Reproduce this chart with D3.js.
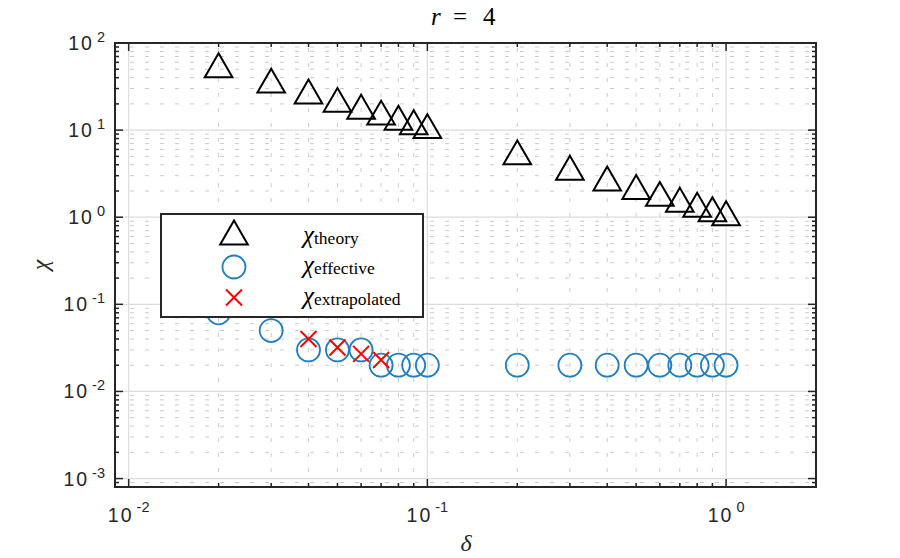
<!DOCTYPE html>
<html><head><meta charset="utf-8">
<script src="https://cdn.jsdelivr.net/npm/d3@7/dist/d3.min.js"></script>
<style>body{margin:0;background:#fff}svg{display:block}</style>
</head><body>
<svg id="c" width="900" height="558"></svg>
<script>
const deltaTheory = [0.02,0.03,0.04,0.05,0.06,0.07,0.08,0.09,0.1,0.2,0.3,0.4,0.5,0.6,0.7,0.8,0.9,1.0];
const chiTheory = [50,33.3,25,20,16.7,14.3,12.5,11.1,10,5,3.33,2.5,2,1.67,1.43,1.25,1.11,1];
const deltaEffective = [0.02,0.03,0.04,0.05,0.06,0.07,0.08,0.09,0.1,0.2,0.3,0.4,0.5,0.6,0.7,0.8,0.9,1.0];
const chiEffective = [0.08,0.05,0.03,0.03,0.03,0.02,0.02,0.02,0.02,0.02,0.02,0.02,0.02,0.02,0.02,0.02,0.02,0.02];
const deltaExtrap = [0.04,0.05,0.06,0.07];
const chiExtrap = [0.04,0.032,0.027,0.023];
const xMajorExp = [-2,-1,0];
const yMajorExp = [-3,-2,-1,0,1,2];
const legendLabels = ["theory","effective","extrapolated"];

const svg = d3.select("#c");
const L=115,R=816,T=43,B=487;
const x = d3.scaleLog().domain([0.009,2]).range([L,R]);
const y = d3.scaleLog().domain([0.0008,100]).range([B,T]);

function minors(lo,hi){const out=[];for(let e=lo;e<=hi;e++){for(let m=2;m<=9;m++)out.push(m*Math.pow(10,e));}return out;}
const xMinor = minors(-3,0).filter(v=>v>=0.009-1e-12&&v<=2+1e-9);
const yMinor = minors(-4,1).filter(v=>v>=0.0008-1e-12&&v<=100);
const xMajor = xMajorExp.map(e=>Math.pow(10,e));
const yMajor = yMajorExp.map(e=>Math.pow(10,e));

const g = svg.append("g");
// minor grid
g.selectAll(".xmg").data(xMinor).enter().append("line")
 .attr("x1",d=>x(d)).attr("x2",d=>x(d)).attr("y1",B).attr("y2",T)
 .attr("stroke","#cbcbcb").attr("stroke-width",1).attr("stroke-dasharray","4,11");
g.selectAll(".ymg").data(yMinor).enter().append("line")
 .attr("y1",d=>y(d)).attr("y2",d=>y(d)).attr("x1",L).attr("x2",R)
 .attr("stroke","#cbcbcb").attr("stroke-width",1).attr("stroke-dasharray","4,11");
// major grid
g.selectAll(".xMg").data(xMajor).enter().append("line")
 .attr("x1",d=>x(d)).attr("x2",d=>x(d)).attr("y1",B).attr("y2",T)
 .attr("stroke","#dcdcdc").attr("stroke-width",1.2);
g.selectAll(".yMg").data(yMajor).enter().append("line")
 .attr("y1",d=>y(d)).attr("y2",d=>y(d)).attr("x1",L).attr("x2",R)
 .attr("stroke","#dcdcdc").attr("stroke-width",1.2);

// data
const tri = d3.symbol().type(d3.symbolTriangle).size(330);
g.selectAll(".tri").data(deltaTheory).enter().append("path")
 .attr("d",tri).attr("transform",(d,i)=>`translate(${x(d)},${y(chiTheory[i])})`)
 .attr("fill","none").attr("stroke","#000").attr("stroke-width",2);
g.selectAll(".circ").data(deltaEffective).enter().append("circle")
 .attr("cx",d=>x(d)).attr("cy",(d,i)=>y(chiEffective[i])).attr("r",11.5)
 .attr("fill","none").attr("stroke","#1f7fc0").attr("stroke-width",1.8);
function cross(sel,cx,cy,s){
  sel.append("path").attr("d",`M${cx-s},${cy-s}L${cx+s},${cy+s}M${cx-s},${cy+s}L${cx+s},${cy-s}`)
   .attr("stroke","#ff0000").attr("stroke-width",2).attr("fill","none");
}
deltaExtrap.forEach((d,i)=>cross(g,x(d),y(chiExtrap[i]),8));

// axes
const axc="#262626";
svg.append("rect").attr("x",L).attr("y",T).attr("width",R-L).attr("height",B-T)
 .attr("fill","none").attr("stroke",axc).attr("stroke-width",2);
function ticksX(vals,len){vals.forEach(v=>{
  svg.append("line").attr("x1",x(v)).attr("x2",x(v)).attr("y1",B).attr("y2",B-len).attr("stroke",axc).attr("stroke-width",1.5);
  svg.append("line").attr("x1",x(v)).attr("x2",x(v)).attr("y1",T).attr("y2",T+len).attr("stroke",axc).attr("stroke-width",1.5);});}
function ticksY(vals,len){vals.forEach(v=>{
  svg.append("line").attr("y1",y(v)).attr("y2",y(v)).attr("x1",L).attr("x2",L+len).attr("stroke",axc).attr("stroke-width",1.5);
  svg.append("line").attr("y1",y(v)).attr("y2",y(v)).attr("x1",R).attr("x2",R-len).attr("stroke",axc).attr("stroke-width",1.5);});}
ticksX(xMinor,4); ticksX(xMajor,8); ticksY(yMinor,4); ticksY(yMajor,8);

// tick labels
const tf = "'Liberation Sans', Arial, sans-serif";
xMajorExp.forEach(e=>{
  const t = svg.append("text").attr("x",x(Math.pow(10,e))).attr("y",522).attr("text-anchor","middle")
   .attr("font-family",tf).attr("font-size",19.5).attr("fill","#262626");
  t.append("tspan").attr("letter-spacing",2).text("10");
  t.append("tspan").attr("font-size",14.5).attr("dx",3).attr("dy",-10).text(String(e));
});
yMajorExp.forEach(e=>{
  const t = svg.append("text").attr("x",105).attr("y",y(Math.pow(10,e))+7).attr("text-anchor","end")
   .attr("font-family",tf).attr("font-size",19.5).attr("fill","#262626");
  t.append("tspan").attr("letter-spacing",2).text("10");
  t.append("tspan").attr("font-size",14.5).attr("dx",3).attr("dy",-8).text(String(e));
});

// labels
const sf = "'Liberation Serif','Times New Roman',serif";
svg.append("text").attr("x",466).attr("y",551).attr("text-anchor","middle").attr("font-family",sf)
 .attr("font-style","italic").attr("font-size",24).attr("fill","#262626").text("δ");
svg.append("text").attr("transform","translate(48,265) rotate(-90)").attr("text-anchor","middle").attr("font-family",sf)
 .attr("font-style","italic").attr("font-size",24).attr("fill","#262626").text("χ");
const tt = svg.append("text").attr("y",25).attr("font-family",sf).attr("font-size",25).attr("fill","#000");
tt.append("tspan").attr("x",431).attr("font-style","italic").text("r");
tt.append("tspan").attr("x",453).text("=");
tt.append("tspan").attr("x",483).text("4");

// legend
const lg = svg.append("g");
lg.append("rect").attr("x",161).attr("y",214).attr("width",262).attr("height",103)
 .attr("fill","#fff").attr("stroke","#262626").attr("stroke-width",2);
const rowY=[236.5,267,297.5], mx=234, tx=303;
lg.append("path").attr("d",tri).attr("transform",`translate(${mx},${rowY[0]})`)
 .attr("fill","none").attr("stroke","#000").attr("stroke-width",2);
lg.append("circle").attr("cx",mx).attr("cy",rowY[1]).attr("r",11.5).attr("fill","none").attr("stroke","#1f7fc0").attr("stroke-width",1.8);
cross(lg,mx,rowY[2],8);
legendLabels.forEach((s,i)=>{
  const t = lg.append("text").attr("x",tx).attr("y",rowY[i]+6).attr("font-family",sf).attr("font-size",17.5).attr("fill","#000");
  t.append("tspan").attr("font-style","italic").attr("font-size",25).text("χ");
  t.append("tspan").attr("dy",1).text(s);
});
</script>
</body></html>
